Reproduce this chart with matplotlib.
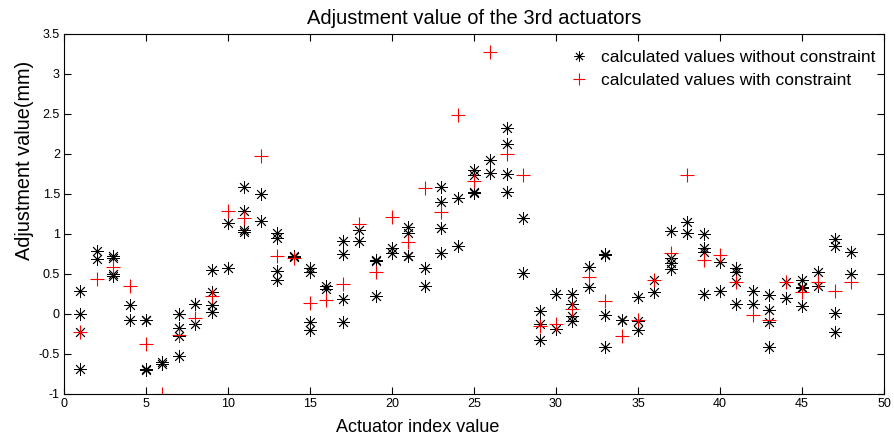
import numpy as np
import matplotlib
matplotlib.use("Agg")
import matplotlib.pyplot as plt

plt.rcParams['font.family'] = ['Liberation Sans', 'DejaVu Sans']

# calculated values without constraint, several per actuator index (1..48)
without_constraint = [
    [0.29, 0.0, -0.22, -0.69],
    [0.79, 0.69],
    [0.72, 0.70, 0.50, 0.475],
    [0.11, -0.07],
    [-0.07, -0.08, -0.69, -0.70],
    [-0.60, -0.62],
    [0.0, -0.18, -0.28, -0.525],
    [0.125, -0.13],
    [0.55, 0.27, 0.11, 0.02],
    [1.14, 0.57],
    [1.59, 1.29, 1.05, 1.03],
    [1.50, 1.16],
    [1.01, 0.95, 0.54, 0.42],
    [0.71, 0.72],
    [0.58, 0.53, -0.10, -0.20],
    [0.35, 0.31],
    [0.91, 0.75, 0.19, -0.10],
    [1.05, 0.91],
    [0.67, 0.66, 0.225],
    [0.82, 0.76],
    [1.09, 1.01, 0.73, 0.72],
    [0.58, 0.35],
    [1.59, 1.40, 1.07, 0.76],
    [1.45, 0.85],
    [1.80, 1.74, 1.51, 1.52],
    [1.92, 1.76],
    [2.33, 2.13, 1.75, 1.53],
    [1.20, 0.51],
    [0.04, -0.13, -0.32],
    [0.25, -0.19],
    [0.25, 0.12, -0.03, -0.09],
    [0.59, 0.34],
    [0.75, 0.74, -0.01, -0.41],
    [-0.07, -0.08],
    [0.21, -0.09, -0.20],
    [0.43, 0.27],
    [1.04, 0.70, 0.64, 0.56],
    [1.15, 1.01],
    [1.00, 0.82, 0.78, 0.25],
    [0.65, 0.29],
    [0.58, 0.52, 0.40, 0.12],
    [0.29, 0.12],
    [0.24, 0.05, -0.10, -0.41],
    [0.40, 0.20],
    [0.43, 0.34, 0.32, 0.10],
    [0.52, 0.35],
    [0.94, 0.85, 0.01, -0.23],
    [0.77, 0.50],
]

# calculated values with constraint, one per actuator index
with_constraint = [
    -0.23, 0.44, 0.59, 0.35, -0.375, -1.0, -0.26, -0.05, 0.225, 1.29,
    1.20, 1.97, 0.725, 0.70, 0.14, 0.175, 0.37, 1.13, 0.53, 1.21,
    0.90, 1.57, 1.27, 2.49, 1.66, 3.28, 2.00, 1.74, -0.15, -0.13,
    0.06, 0.46, 0.16, -0.28, -0.07, 0.43, 0.76, 1.74, 0.68, 0.74,
    0.40, -0.01, -0.075, 0.40, 0.28, 0.40, 0.29, 0.40,
]

idx = np.arange(1, len(with_constraint) + 1)
bx = np.concatenate([[i] * len(v) for i, v in zip(idx, without_constraint)])
by = np.concatenate(without_constraint)

fig = plt.figure(figsize=(8.95, 4.43), dpi=100)
ax = fig.add_axes([64 / 895, 1 - 394 / 443, 820 / 895, 360 / 443])

ax.plot(bx, by, linestyle='none', marker=(8, 2, 0), markersize=9,
        markeredgewidth=0.6, color='black',
        label='calculated values without constraint')
ax.plot(idx, with_constraint, linestyle='none', marker='+', markersize=10,
        markeredgewidth=0.8, color='#ff0000',
        label='calculated values with constraint')

ax.set_xlim(0, 50)
ax.set_ylim(-1, 3.5)
ax.set_xticks(np.arange(0, 51, 5))
ax.set_yticks(np.arange(-1, 3.51, 0.5))
ax.set_yticklabels(['-1', '-0.5', '0', '0.5', '1', '1.5', '2', '2.5', '3', '3.5'])
ax.tick_params(direction='in', top=True, right=True, length=5, width=0.8,
               labelsize=9, pad=3)
for s in ax.spines.values():
    s.set_linewidth(0.8)

ax.set_title('Adjustment value of the 3rd actuators', fontsize=14.5, pad=7)
ax.set_xlabel('Actuator index value', fontsize=13, labelpad=2)
ax.xaxis.set_label_coords((418 - 64) / 820, -0.07)
ax.set_ylabel('Adjustment value(mm)', fontsize=14.3, labelpad=4)
ax.yaxis.set_label_coords(-0.036, (394 - 160) / 360)

ax.legend(loc='upper left', bbox_to_anchor=((563 - 64) / 820, 0.975),
          frameon=False, fontsize=12.5, handlelength=1.0, handletextpad=0.8,
          labelspacing=0.45, borderaxespad=0, markerscale=0.8)

fig.savefig('out.png', dpi=100)
